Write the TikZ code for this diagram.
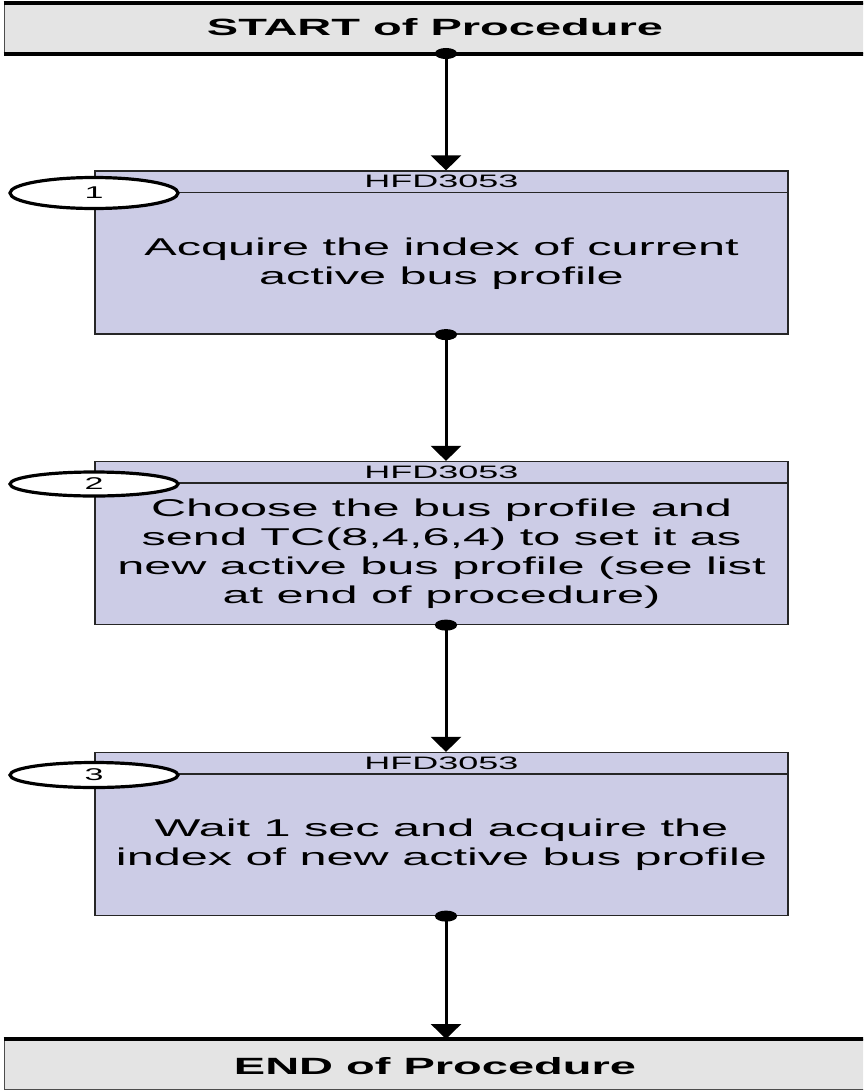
\documentclass[tikz,border=0pt]{standalone}
\usepackage{fontspec}
\setmainfont{Liberation Sans}
\usetikzlibrary{arrows.meta,shapes.geometric}

\definecolor{stepfill}{RGB}{204,204,230}
\definecolor{endfill}{RGB}{228,228,228}

\tikzset{
  endbox/.style={draw=black!70, line width=1pt, fill=endfill, minimum width=863pt, minimum height=50pt, inner sep=0pt},
  stepbox/.style={draw=black!85, line width=1.2pt, fill=stepfill, minimum width=693pt, minimum height=163pt, inner sep=0pt},
  hdr/.style={font=\fontsize{18}{18}\selectfont, xscale=2, inner sep=0pt},
  body/.style={font=\fontsize{24.3}{29}\selectfont, xscale=2, align=center, inner sep=0pt},
  title/.style={font=\bfseries\fontsize{23.5}{24}\selectfont, xscale=2, inner sep=0pt},
  num/.style={ellipse, draw, line width=3.2pt, fill=white, xscale=2, minimum width=84pt, inner sep=0pt, font=\fontsize{17}{17}\selectfont},
  link/.style={line width=3pt, {Ellipse[width=22pt,length=11pt]}-{Triangle[width=30pt,length=15pt]}, shorten <=-5.5pt}
}

\begin{document}
\begin{tikzpicture}[x=1pt, y=-1pt]
  \useasboundingbox (0,0) rectangle (863,1090);
  \clip (0,0) rectangle (863,1090);

  % start and end of the procedure
  \node[endbox] (start) at (435.5,28) {};
  \draw[line width=4pt] (start.north west) -- (start.north east);
  \draw[line width=4pt] (start.south west) -- (start.south east);
  \node[title] (starttxt) at (435,27) {START of Procedure};

  \node[endbox] (end) at (435.5,1064.5) {};
  \draw[line width=4pt] (end.north west) -- (end.north east);
  \node[title] (endtxt) at (435,1066) {END of Procedure};

  \coordinate (spine) at (446,0);

  % step 1
  \node[stepbox] (s1) at (441.5,252.5) {};
  \draw[line width=1.2pt, black!85] ([yshift=-22pt]s1.north west) -- ([yshift=-22pt]s1.north east);
  \node[hdr] (h1) at ([yshift=-11pt]s1.north) {HFD3053};
  \node[body] (b1) at ([yshift=-11pt]s1.center) {Acquire the index of current\\active bus profile};
  \node[num, minimum height=31pt] (n1) at (94,193) {1};

  % step 2
  \node[stepbox] (s2) at (441.5,543) {};
  \draw[line width=1.2pt, black!85] ([yshift=-22pt]s2.north west) -- ([yshift=-22pt]s2.north east);
  \node[hdr] (h2) at ([yshift=-11pt]s2.north) {HFD3053};
  \node[body] (b2) at ([yshift=-11pt]s2.center) {Choose the bus profile and\\send TC(8,4,6,4) to set it as\\new active bus profile (see list\\at end of procedure)};
  \node[num, minimum height=24pt] (n2) at (94,484) {2};

  % step 3
  \node[stepbox] (s3) at (441.5,834) {};
  \draw[line width=1.2pt, black!85] ([yshift=-22pt]s3.north west) -- ([yshift=-22pt]s3.north east);
  \node[hdr] (h3) at ([yshift=-11pt]s3.north) {HFD3053};
  \node[body] (b3) at ([yshift=-11pt]s3.center) {Wait 1 sec and acquire the\\index of new active bus profile};
  \node[num, minimum height=25pt] (n3) at (94,775) {3};

  % connectors
  \draw[link] (start.south -| spine) -- (s1.north -| spine);
  \draw[link] (s1.south -| spine) -- (s2.north -| spine);
  \draw[link] (s2.south -| spine) -- (s3.north -| spine);
  \draw[link] (s3.south -| spine) -- (end.north -| spine);
\end{tikzpicture}
\end{document}
